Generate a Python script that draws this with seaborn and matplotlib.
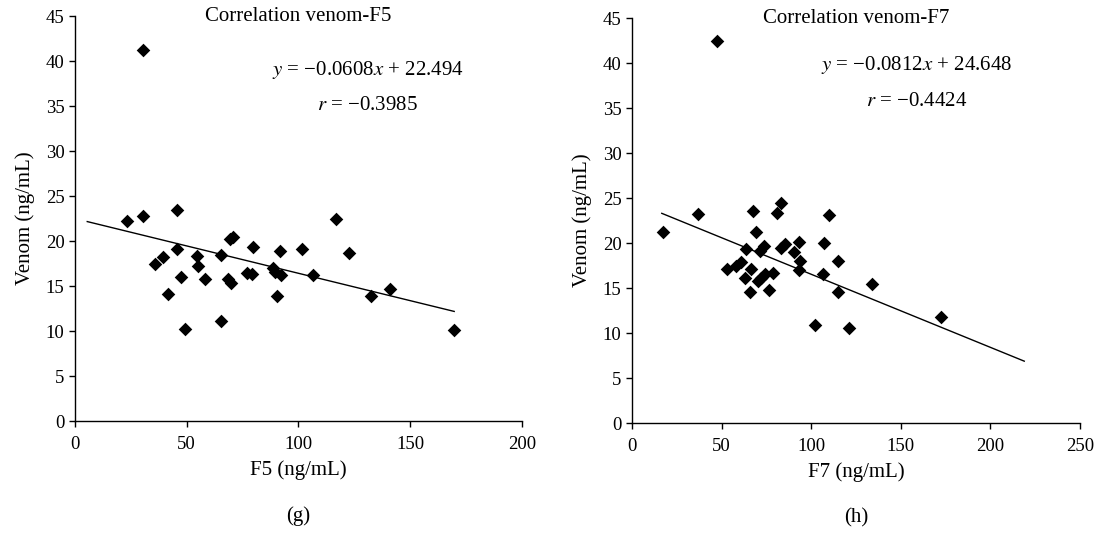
import numpy as np
import pandas as pd
import matplotlib
matplotlib.use("Agg")
import matplotlib.pyplot as plt
import seaborn as sns

# Data
f5 = [30.6, 23.1, 30.6, 45.8, 116.7, 69.5, 70.5, 45.5, 79.7, 91.7, 101.8, 122.7,
      39.5, 54.7, 65.3, 35.8, 55.1, 47.4, 58.4, 68.3, 70.0, 76.8, 79.0, 88.7,
      89.4, 92.0, 106.6, 41.7, 90.2, 132.6, 140.8, 65.3, 49.3, 169.7]
venom_f5 = [41.2, 22.2, 22.8, 23.4, 22.5, 20.2, 20.4, 19.1, 19.3, 18.9, 19.1, 18.7,
            18.2, 18.3, 18.5, 17.4, 17.2, 16.0, 15.8, 15.8, 15.3, 16.4, 16.3, 17.0,
            16.6, 16.2, 16.2, 14.1, 13.9, 13.9, 14.7, 11.1, 10.2, 10.1]

f7 = [47.5, 17.3, 36.9, 67.6, 83.0, 81.0, 110.0, 69.4, 107.2, 93.1, 85.6, 83.4,
      73.7, 63.8, 71.5, 90.5, 94.0, 115.0, 61.0, 58.3, 53.2, 66.3, 93.3, 78.7,
      74.1, 106.5, 71.8, 70.4, 63.1, 134.2, 65.7, 76.3, 115.0, 102.2, 121.0, 172.2]
venom_f7 = [42.5, 21.2, 23.2, 23.6, 24.4, 23.3, 23.1, 21.2, 20.0, 20.1, 19.9, 19.4,
            19.7, 19.3, 19.1, 19.0, 18.0, 18.0, 17.9, 17.4, 17.1, 17.1, 17.0, 16.7,
            16.6, 16.6, 16.1, 15.8, 16.1, 15.4, 14.6, 14.8, 14.6, 10.9, 10.6, 11.8]

# Fit lines (from the printed equations) and their drawn x range
fit_f5 = (-0.0608, 22.494)
fit_f7 = (-0.0812, 24.648)
range_f5 = [5.5, 169.7]
range_f7 = [16.6, 218.9]

plt.rcParams['font.family'] = ['Liberation Serif', 'DejaVu Serif']
plt.rcParams['mathtext.fontset'] = 'stix'
plt.rcParams['axes.unicode_minus'] = True

fig = plt.figure(figsize=(10.99, 5.6), dpi=100)
ax1 = fig.add_axes([0.0682, 0.2482, 0.4067, 0.7232])
ax2 = fig.add_axes([0.5751, 0.2446, 0.4076, 0.7232])

panels = [
    (ax1, f5, venom_f5, fit_f5, range_f5, 'Correlation venom-F5', 'F5 (ng/mL)', '(g)',
     200, r'$y$ = −0.0608$x$ + 22.494', r'$r$ = −0.3985', (131, 39.0), (131, 35.1)),
    (ax2, f7, venom_f7, fit_f7, range_f7, 'Correlation venom-F7', 'F7 (ng/mL)', '(h)',
     250, r'$y$ = −0.0812$x$ + 24.648', r'$r$ = −0.4424', (159, 39.8), (159, 35.7)),
]

for ax, xs, ys, fit, xr, title, xlabel, tag, xmax, eq, rtxt, eq_pos, r_pos in panels:
    df = pd.DataFrame({'x': xs, 'y': ys})
    sns.scatterplot(data=df, x='x', y='y', marker='D', color='black', s=48,
                    linewidth=0, ax=ax, zorder=3)
    line = pd.DataFrame({'x': xr})
    line['y'] = fit[0] * line['x'] + fit[1]
    sns.lineplot(data=line, x='x', y='y', color='black', linewidth=1.0, ax=ax)

    ax.set_xlim(0, xmax)
    ax.set_ylim(0, 45)
    ax.set_xticks(np.arange(0, xmax + 1, 50))
    ax.set_yticks(np.arange(0, 46, 5))
    for s in ['top', 'right']:
        ax.spines[s].set_visible(False)
    for s in ['left', 'bottom']:
        ax.spines[s].set_linewidth(1.0)
        ax.spines[s].set_color('black')
    ax.tick_params(direction='out', length=4, width=1.0, labelsize=13.5, colors='black')
    ax.tick_params(axis='x', pad=7)
    ax.set_xlabel(xlabel, fontsize=15, labelpad=5)
    ax.set_ylabel('Venom (ng/mL)', fontsize=15, labelpad=8)
    ax.text(0.5, 1.0, title, transform=ax.transAxes, ha='center', va='center', fontsize=15)
    ax.text(eq_pos[0], eq_pos[1], eq, ha='center', va='center', fontsize=15)
    ax.text(r_pos[0], r_pos[1], rtxt, ha='center', va='center', fontsize=15)
    ax.text(0.5, -0.235, tag, transform=ax.transAxes, ha='center', va='center', fontsize=15)

fig.savefig('out.png', dpi=100)
